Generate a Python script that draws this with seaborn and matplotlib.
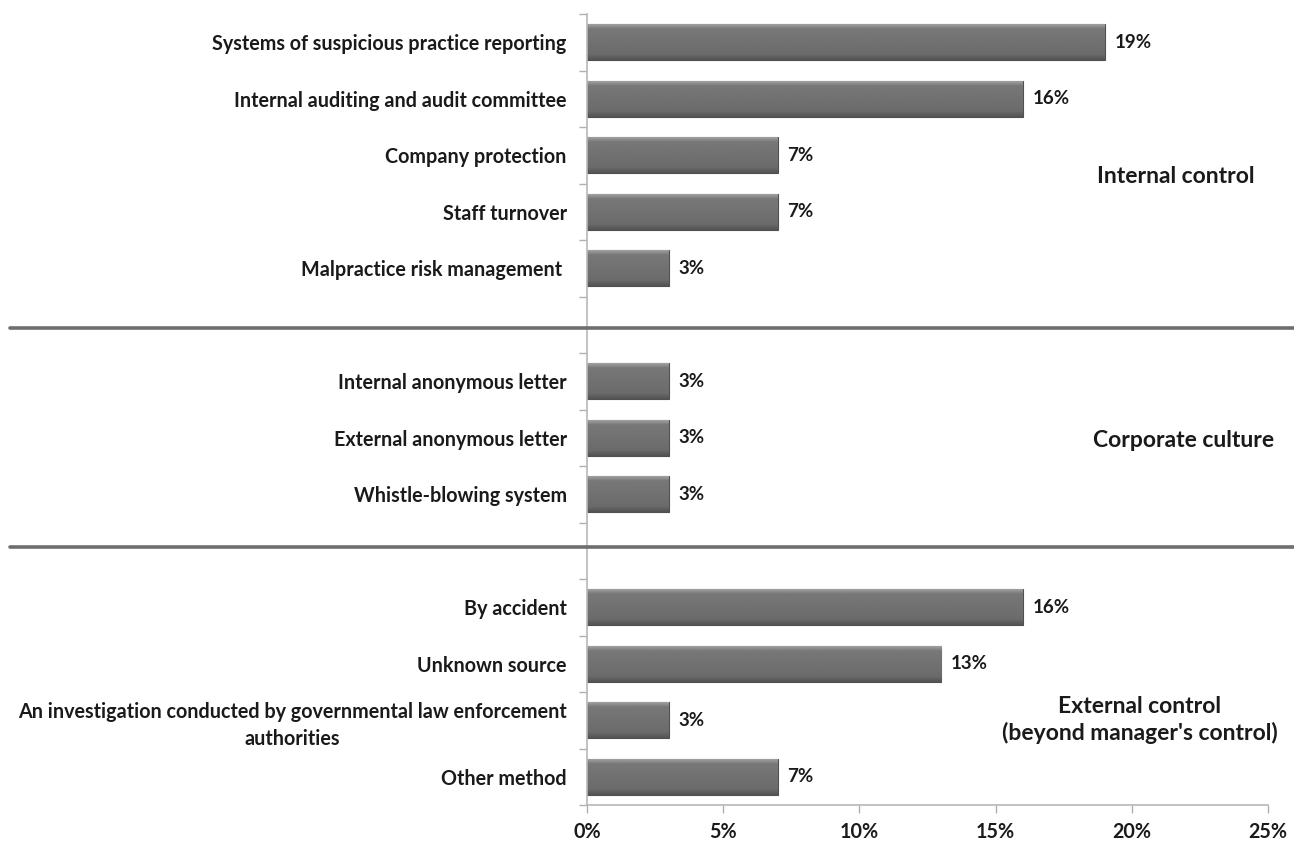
import numpy as np
import pandas as pd
import matplotlib
matplotlib.use("Agg")
import matplotlib.pyplot as plt
from matplotlib.transforms import blended_transform_factory
import seaborn as sns

# Detection methods, grouped by type of control
internal_methods = [
    "Systems of suspicious practice reporting",
    "Internal auditing and audit committee",
    "Company protection",
    "Staff turnover",
    "Malpractice risk management ",
]
internal_shares = [19, 16, 7, 7, 3]

culture_methods = [
    "Internal anonymous letter",
    "External anonymous letter",
    "Whistle-blowing system",
]
culture_shares = [3, 3, 3]

external_methods = [
    "By accident",
    "Unknown source",
    "An investigation conducted by governmental law enforcement\nauthorities",
    "Other method",
]
external_shares = [16, 13, 3, 7]

group_names = ["Internal control", "Corporate culture",
               "External control\n(beyond manager's control)"]
x_ticks = [0, 5, 10, 15, 20, 25]

sns.set_theme(style="white")
plt.rcParams["font.family"] = ["Lato", "DejaVu Sans"]
plt.rcParams["font.weight"] = "bold"

methods = internal_methods + culture_methods + external_methods
shares = internal_shares + culture_shares + external_shares
df = pd.DataFrame({"method": methods, "share": shares})

# blank slots separate the three groups
gap1, gap2 = " ", "  "
order = internal_methods + [gap1] + culture_methods + [gap2] + external_methods

fig = plt.figure(figsize=(12.94, 8.44), dpi=100)
ax = fig.add_axes([0.4536, 0.0462, 0.9799 - 0.4536, 0.9834 - 0.0462])

sns.barplot(data=df, y="method", x="share", order=order, orient="h",
            color="#707070", width=0.64, ax=ax, edgecolor="#505050",
            linewidth=0.8)

# shaded fill for each bar
grad = np.concatenate([
    np.linspace(0.66, 0.50, 6),
    np.linspace(0.47, 0.42, 30),
    np.linspace(0.40, 0.33, 6),
])[:, None]
for patch in list(ax.patches):
    x0, y0 = patch.get_x(), patch.get_y()
    w, h = patch.get_width(), patch.get_height()
    im = ax.imshow(grad, cmap="gray", vmin=0, vmax=1, aspect="auto",
                   extent=(x0, x0 + w, y0 + h, y0), origin="upper",
                   interpolation="bilinear", zorder=patch.get_zorder() + 0.1)
    im.set_clip_path(patch)

ax.set_xlim(0, 25)
ax.set_ylim(len(order) - 0.5, -0.5)

# value labels
for name, val in zip(methods, shares):
    ax.text(val + 0.36, order.index(name), f"{val}%", va="center", ha="left",
            fontsize=13.5, fontweight="bold", color="#1a1a1a", zorder=5)

# category ticks between rows, labels at row centers
ax.set_yticks(np.arange(-0.5, len(order), 1.0))
ax.set_yticklabels([])
ax.set_yticks(np.arange(len(order)), labels=order, minor=True)
for lbl in ax.get_yticklabels(minor=True):
    lbl.set_multialignment("center")
    lbl.set_fontweight("bold")
    lbl.set_linespacing(1.4)
ax.tick_params(axis="y", which="minor", length=0, pad=14.5, labelsize=14.2,
               labelcolor="#1a1a1a")
ax.tick_params(axis="y", which="major", length=6, width=1, color="#b0b0b0",
               left=True)

ax.set_xticks(x_ticks, labels=[f"{t}%" for t in x_ticks])
ax.tick_params(axis="x", length=6, width=1, color="#b0b0b0", bottom=True,
               labelsize=14.2, labelcolor="#1a1a1a", pad=6)
for lbl in ax.get_xticklabels():
    lbl.set_fontweight("bold")

ax.set_xlabel("")
ax.set_ylabel("")
for side in ["top", "right"]:
    ax.spines[side].set_visible(False)
for side in ["left", "bottom"]:
    ax.spines[side].set_color("#b8b8b8")
    ax.spines[side].set_linewidth(1.2)

# group separators across the full width
trans = blended_transform_factory(fig.transFigure, ax.transData)
for gap, shift in ((gap1, 0.05), (gap2, -0.06)):
    yv = order.index(gap) + shift
    ax.plot([0.008, 1.0], [yv, yv], transform=trans, color="#6e6e6e",
            linewidth=2.6, clip_on=False, zorder=6)

# group titles
group_pos = [(21.6, 2.37), (21.9, 7.04), (20.3, 12.0)]
for name, (gx, gy) in zip(group_names, group_pos):
    ax.text(gx, gy, name, ha="center", va="center", fontsize=16.5,
            fontweight="bold", color="#1a1a1a", linespacing=1.25)

fig.savefig("out.png", dpi=100, facecolor="white")
